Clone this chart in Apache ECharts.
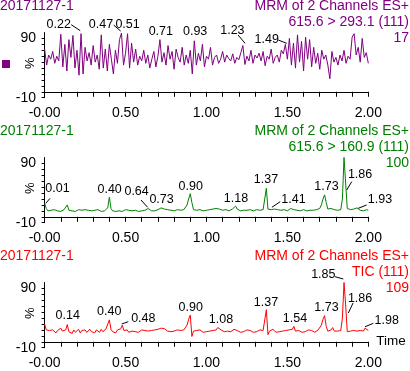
<!DOCTYPE html>
<html><head><meta charset="utf-8">
<script src="https://cdn.jsdelivr.net/npm/echarts@6/dist/echarts.min.js"></script>
<style>html,body{margin:0;padding:0;background:#fff}#c{width:410px;height:371px}</style>
</head><body><div id="c"></div>
<script>
// ---------- data ----------
const runName = '20171127-1';
const headerLines = [
  ['MRM of 2 Channels ES+', '615.6 > 293.1 (111)', '17'],
  ['MRM of 2 Channels ES+', '615.6 > 160.9 (111)', '100'],
  ['MRM of 2 Channels ES+', 'TIC (111)', '109']
];
const yAxisName = '%';
const scanStart = 0;
const purpleStep = 0.0125;
const traceStep = 0.01;
const purpleValues = [
  72,45,62,55,68,48,60,52,97,42,
  80,35,88,58,95,40,70,28,98,30,
  75,52,66,45,78,50,62,38,96,40,
  72,35,80,55,30,70,48,88,99,45,
  65,98,40,82,50,72,45,60,52,70,
  48,62,40,55,68,42,60,88,50,66,
  45,78,55,68,38,72,58,50,75,45,
  62,48,70,30,86,45,65,52,80,42,
  60,55,75,45,58,62,48,55,68,50,
  62,56,52,64,48,58,54,66,78,46,
  60,52,70,48,62,57,65,52,68,44,
  60,55,72,48,58,62,50,70,64,80,
  55,90,45,82,40,96,50,85,35,92,
  55,88,42,75,48,65,38,70,55,62,
  45,22,68,50,58,45,62,52,70,48,
  60,55,92,98,62,75,50,90,58,66,
  48
];
const greenValues = [
  23,14,10,9,11,10,12,9,10,11,
  9,10,12,10,20,11,9,10,11,9,
  10,12,9,11,10,12,9,11,13,10,
  9,11,10,12,10,9,11,10,13,15,
  33,14,10,11,9,12,10,11,9,10,
  12,10,11,9,10,12,11,10,9,11,
  10,12,11,13,14,11,10,12,10,11,
  12,13,15,17,13,11,12,10,11,12,
  10,11,12,10,11,10,12,14,20,30,
  39,24,12,10,11,10,12,11,10,12,
  11,10,12,11,13,12,14,11,13,12,
  11,10,12,11,10,12,13,14,18,13,
  11,10,12,11,10,11,10,12,11,10,
  11,12,10,11,10,12,14,48,13,11,
  12,15,13,11,12,10,11,13,12,11,
  10,12,14,11,12,10,11,12,10,11,
  12,11,10,12,11,10,11,10,12,11,
  14,20,30,37,24,13,11,14,17,12,
  10,11,10,12,30,100,57,14,11,12,
  10,13,12,15,12,11,12,10,11,12,
  11
];
const redValues = [
  30,20,17,19,16,20,18,15,19,17,
  23,18,16,20,29,17,19,14,20,16,
  18,21,15,19,17,20,16,18,21,17,
  19,15,20,18,16,21,17,19,22,24,
  37,21,17,19,15,20,18,22,28,19,
  17,20,16,19,18,21,17,19,16,18,
  20,17,19,21,18,16,19,17,20,18,
  21,19,23,24,22,19,18,20,17,19,
  18,16,20,17,19,18,20,22,28,38,
  45,9,18,16,19,17,20,18,16,19,
  17,20,18,21,19,22,20,24,26,20,
  18,17,19,18,20,17,19,21,23,19,
  18,16,19,17,18,20,17,19,18,16,
  19,17,18,20,17,19,21,54,12,18,
  19,21,18,16,19,17,20,18,17,19,
  18,20,22,21,26,18,17,19,18,16,
  19,17,18,20,17,19,18,16,19,20,
  22,28,38,44,26,18,17,20,24,18,
  16,18,17,19,40,100,62,17,20,18,
  21,19,22,18,20,19,21,18,23,20,
  19
];
const purplePeakTimes = [0.22,0.47,0.51,0.71,0.93,1.23,1.49];
const purplePeakHeights = [98,99,98,88,86,78,80];
const greenPeakTimes = [0.01,0.40,0.64,0.73,0.90,1.18,1.37,1.41,1.73,1.86,1.93];
const greenPeakHeights = [23,33,14,17,39,18,48,15,37,57,15];
const redPeakTimes = [0.14,0.40,0.48,0.90,1.08,1.37,1.54,1.73,1.85,1.86,1.98];
const redPeakHeights = [29,37,28,45,26,54,26,44,100,62,23];
const xTickValues = [0,0.1,0.2,0.3,0.4,0.5,0.6,0.7,0.8,0.9,1.0,1.1,1.2,1.3,1.4,1.5,1.6,1.7,1.8,1.9,2.0];
const xLabelValues = [0,0.5,1.0,1.5,2.0];
const yTickValues = [-10,0,10,20,30,40,50,60,70,80,90];
const yLabelValues = [-10,90];
const yNameValue = 48;

// ---------- layout / style ----------
const FONT = '"Liberation Sans", Arial, sans-serif';
const colors = ['#800080', '#008000', '#ff0000'];
const panelTop = [32.5, 157.5, 282.5];
const panelShift = 125;
// label layout: [dx, dy, leader line [x1,y1,x2,y2] relative to peak or null]
const purpleLabelLayout = [
  [-21.5,-9,[0,-3,-9,-9]], [-19.7,-8.6,[0,-2,-7,-8]], [0.4,-9.2,null], [1.3,-7.6,null],
  [0,-8.8,null], [-11.3,-14.5,[1.4,-2.2,-5.6,-10.5]], [-19,-5.1,[1,-1,-7.4,-4.3]]
];
const greenLabelLayout = [
  [11.3,-14.1,[-0.5,0.2,3.8,-4.8]], [0.3,-7.2,null], [-11.6,-16.8,[-0.6,-1.2,-7.2,-8.5]],
  [-1.2,-7.4,null], [0.4,-7,null], [0.4,-7.8,null], [-0.4,-8.3,null],
  [20.7,-7.9,[-0.9,-0.6,7.4,-6.2]], [1.9,-8.1,null], [14.4,-8,[1.1,7,6.1,-1.3]],
  [23,-7.9,[1.3,0.4,9.7,-2.9]]
];
const redLabelLayout = [
  [0.4,-8.6,null], [-0.1,-8.1,null], [21,-6.9,[-0.6,-1.2,6,-3.5]], [0.4,-7.4,null],
  [1.6,-7.1,null], [-0.4,-7.5,null], [1.1,-7.4,null], [1.9,-8,null],
  [-20.7,-7.5,[-9,-5.8,-0.7,-3.5]], [14.4,-6,[2.7,8,7.4,-2]], [21.6,-7.4,[-0.1,-1.4,8.2,-4.8]]
];

const series = [
  {values: purpleValues, step: purpleStep},
  {values: greenValues, step: traceStep},
  {values: redValues, step: traceStep}
];

const chart = echarts.init(document.getElementById('c'), null, {renderer: 'canvas'});
const fmtX = v => (Math.abs(v) < 1e-9 ? '-0.00' : v.toFixed(2));

const option = {
  animation: false,
  backgroundColor: '#fff',
  grid: panelTop.map(t => ({left: 43, top: t, width: 325.3, height: 65.2, outerBoundsMode: 'none', containLabel: false})),
  xAxis: [0,1,2].map(k => ({
    gridIndex: k, type: 'value', min: -0.01, max: 2.0,
    axisLine: {show: true, lineStyle: {color: '#000', width: 1}},
    axisTick: {show: true, customValues: xTickValues, length: 5, inside: false, lineStyle: {color: '#000', width: 1}},
    axisLabel: {show: true, customValues: xLabelValues, formatter: fmtX, fontSize: 14, fontFamily: FONT, color: '#000', margin: 8},
    splitLine: {show: false},
    name: k === 2 ? 'Time' : '', nameLocation: 'end', nameGap: 8,
    nameTextStyle: {fontSize: 13.5, fontFamily: FONT, color: '#000', verticalAlign: 'middle', padding: [2,0,0,0]}
  })),
  yAxis: [0,1,2].map(k => ({
    gridIndex: k, type: 'value', min: -10, max: 100,
    axisLine: {show: true, lineStyle: {color: '#000', width: 1}},
    axisTick: {show: true, customValues: yTickValues, length: 3, lineStyle: {color: '#000', width: 1}},
    axisLabel: {show: true, customValues: yLabelValues, fontSize: 14, fontFamily: FONT, color: '#000', margin: 7},
    splitLine: {show: false}
  })),
  series: series.map((s, k) => ({
    type: 'line', xAxisIndex: k, yAxisIndex: k, symbol: 'none', showSymbol: false, silent: true,
    lineStyle: {color: colors[k], width: 1}, itemStyle: {color: colors[k]},
    data: s.values.map((v, i) => [scanStart + i * s.step, v])
  }))
};
chart.setOption(option);

const g = [];
function txt(x, y, text, fill, size, align, rot) {
  g.push({type: 'text', x: x, y: y, rotation: rot || 0, silent: true, z: 100,
    style: {text: text, fill: fill, font: size + 'px ' + FONT,
      textAlign: align, align: align, textVerticalAlign: 'middle', verticalAlign: 'middle'}});
}
for (let k = 0; k < 3; k++) {
  const off = k * panelShift;
  txt(0, 6.5 + off, runName, colors[k], 14, 'left');
  txt(409, 6.5 + off, headerLines[k][0], colors[k], 14, 'right');
  txt(409, 22.5 + off, headerLines[k][1], colors[k], 14, 'right');
  txt(409, 38 + off, headerLines[k][2], colors[k], 14, 'right');
  const pn = chart.convertToPixel({gridIndex: k}, [0, yNameValue]);
  txt(30, pn[1], yAxisName, '#000', 13, 'center', Math.PI / 2);
}
g.push({type: 'rect', shape: {x: 2, y: 60, width: 8, height: 8}, style: {fill: colors[0]}, silent: true});

const peakSets = [
  [purplePeakTimes, purplePeakHeights, purpleLabelLayout],
  [greenPeakTimes, greenPeakHeights, greenLabelLayout],
  [redPeakTimes, redPeakHeights, redLabelLayout]
];
peakSets.forEach((ps, k) => {
  ps[0].forEach((t, i) => {
    const p = chart.convertToPixel({gridIndex: k}, [t, ps[1][i]]);
    const lay = ps[2][i];
    txt(p[0] + lay[0], p[1] + lay[1], t.toFixed(2), '#000', 12.5, 'center');
    if (lay[2]) {
      const l = lay[2];
      g.push({type: 'line', silent: true, z: 100,
        shape: {x1: p[0] + l[0], y1: p[1] + l[1], x2: p[0] + l[2], y2: p[1] + l[3]},
        style: {stroke: '#000', lineWidth: 1}});
    }
  });
});
chart.setOption({graphic: {elements: g}});
</script>
</body></html>
